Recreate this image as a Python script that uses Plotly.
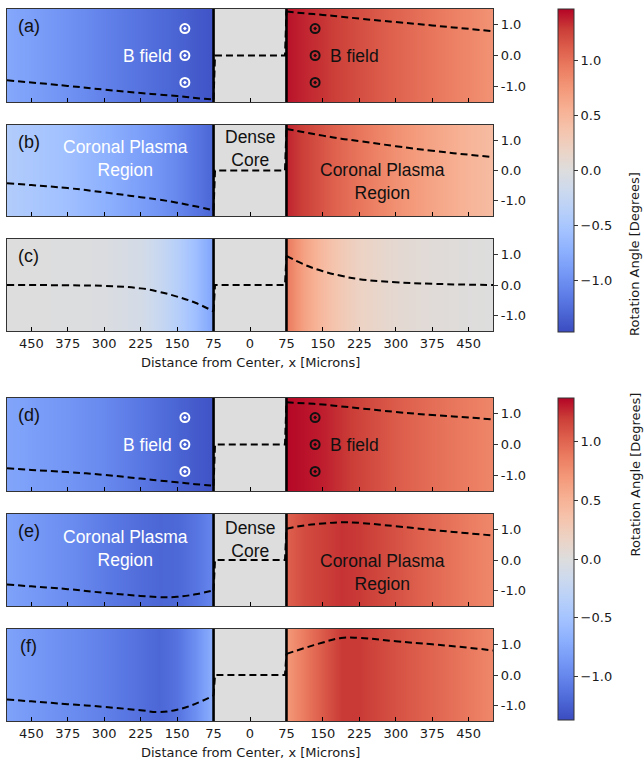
import plotly.graph_objects as go

# ---------------- data ----------------
# distance from center (microns) at which the profiles were read, outer regions
dist = [75, 112.5, 150, 187.5, 225, 300, 375, 450, 500]
# dense core
core_edges = [-75, 75]
core_x = [-72, 0, 72]
core_vals = [0.0, 0.0, 0.0]

# rotation angle [deg] in left (x<0) and right (x>0) coronal plasma regions, listed at `dist`
left_a = [-1.42, -1.37, -1.31, -1.26, -1.21, -1.10, -0.98, -0.87, -0.80]
right_a = [1.42, 1.36, 1.31, 1.25, 1.19, 1.08, 0.97, 0.86, 0.78]
left_b = [-1.31, -1.18, -1.06, -0.96, -0.88, -0.72, -0.58, -0.48, -0.42]
right_b = [1.37, 1.26, 1.15, 1.05, 0.97, 0.80, 0.65, 0.52, 0.44]
left_c = [-0.86, -0.58, -0.38, -0.22, -0.11, -0.03, -0.01, 0.0, 0.0]
right_c = [0.95, 0.66, 0.45, 0.30, 0.19, 0.09, 0.04, 0.01, 0.0]
left_d = [-1.33, -1.28, -1.22, -1.16, -1.10, -0.98, -0.89, -0.82, -0.77]
right_d = [1.36, 1.33, 1.29, 1.23, 1.17, 1.05, 0.95, 0.87, 0.81]
left_e = [-0.99, -1.12, -1.20, -1.21, -1.17, -1.07, -0.95, -0.86, -0.80]
right_e = [1.02, 1.13, 1.19, 1.23, 1.21, 1.10, 0.98, 0.87, 0.80]
left_f = [-0.67, -0.94, -1.13, -1.21, -1.15, -1.04, -0.95, -0.86, -0.80]
right_f = [0.69, 0.88, 1.06, 1.21, 1.21, 1.10, 1.00, 0.89, 0.80]

lefts = [left_a, left_b, left_c, left_d, left_e, left_f]
rights = [right_a, right_b, right_c, right_d, right_e, right_f]
panel_labels = ["(a)", "(b)", "(c)", "(d)", "(e)", "(f)"]

x_tickvals = [-450, -375, -300, -225, -150, -75, 0, 75, 150, 225, 300, 375, 450]
x_ticktext = ["450", "375", "300", "225", "150", "75", "0", "75", "150", "225", "300", "375", "450"]
y_tickvals = [-1, 0, 1]
y_ticktext = ["-1.0", "0.0", "1.0"]
cb_tickvals = [-1.0, -0.5, 0.0, 0.5, 1.0]
cb_ticktext = ["\u22121.0", "\u22120.5", "0.0", "0.5", "1.0"]
color_limits = [1.465, 1.37]  # top group, bottom group

bfield_dist = 134
bfield_y = [0.87, 0.0, -0.87]

# ---------------- style ----------------
W, H = 644, 761
coolwarm = [
    [0.0, "rgb(59,76,192)"], [0.0625, "rgb(77,104,215)"], [0.125, "rgb(98,130,234)"],
    [0.1875, "rgb(119,154,247)"], [0.25, "rgb(141,176,254)"], [0.3125, "rgb(163,194,255)"],
    [0.375, "rgb(184,208,249)"], [0.4375, "rgb(204,217,238)"], [0.5, "rgb(221,221,221)"],
    [0.5625, "rgb(236,211,197)"], [0.625, "rgb(245,196,173)"], [0.6875, "rgb(247,177,148)"],
    [0.75, "rgb(244,154,123)"], [0.8125, "rgb(236,127,99)"], [0.875, "rgb(222,96,77)"],
    [0.9375, "rgb(203,62,56)"], [1.0, "rgb(180,4,38)"],
]
TICKFONT = dict(family="DejaVu Sans", size=13, color="#1a1a1a")
TXTFAM = "Liberation Sans, Arial, sans-serif"
DASH = dict(color="black", width=2, dash="7px,4px")

tops = [9, 125, 239, 398, 514, 629]
bottoms = [102, 216, 331, 491, 606, 721]
xdom = [7 / W, 493 / W]

fig = go.Figure()
layout = dict(width=W, height=H, margin=dict(l=0, r=0, t=0, b=0),
              paper_bgcolor="white", plot_bgcolor="white", showlegend=False)
shapes, annotations = [], []

for i in range(6):
    k = "" if i == 0 else str(i + 1)
    xa, ya = "x" + k, "y" + k
    cax = "coloraxis" if i < 3 else "coloraxis2"
    lv, rv = lefts[i], rights[i]
    lx = [-d for d in dist][::-1]
    lz = lv[::-1]
    # background colour maps
    fig.add_trace(go.Heatmap(x=lx, y=[-1.5, 1.5], z=[lz, lz], coloraxis=cax, zsmooth="best",
                             xaxis=xa, yaxis=ya, hoverinfo="skip"))
    fig.add_trace(go.Heatmap(x=dist, y=[-1.5, 1.5], z=[rv, rv], coloraxis=cax, zsmooth="best",
                             xaxis=xa, yaxis=ya, hoverinfo="skip"))
    fig.add_trace(go.Heatmap(x=core_edges, y=[-1.5, 1.5], z=[[core_vals[0]]], coloraxis=cax,
                             xaxis=xa, yaxis=ya, hoverinfo="skip"))
    # profile lines: smooth outer regions + core with jumps
    fig.add_trace(go.Scatter(x=lx, y=lz, mode="lines", line=dict(DASH, shape="spline", smoothing=1.2),
                             xaxis=xa, yaxis=ya, hoverinfo="skip"))
    fig.add_trace(go.Scatter(x=dist, y=rv, mode="lines", line=dict(DASH, shape="spline", smoothing=1.2),
                             xaxis=xa, yaxis=ya, hoverinfo="skip"))
    fig.add_trace(go.Scatter(x=[lx[-1]] + core_x + [dist[0]], y=[lz[-1]] + core_vals + [rv[0]],
                             mode="lines", line=DASH, xaxis=xa, yaxis=ya, hoverinfo="skip"))
    # separators
    for xe in core_edges:
        shapes.append(dict(type="line", xref=xa, yref=ya + " domain", x0=xe, x1=xe, y0=0, y1=1,
                           line=dict(color="black", width=2.6), layer="above"))
    dom = [1 - bottoms[i] / H, 1 - tops[i] / H]
    layout["xaxis" + k] = dict(domain=xdom, range=[-500, 500], anchor=ya, tickvals=x_tickvals,
                               ticktext=x_ticktext, showticklabels=(i in (2, 5)), ticks="inside",
                               ticklen=4, tickwidth=1.3, tickcolor="black", showline=True, mirror=True,
                               linecolor="#333", linewidth=1.2, showgrid=False, zeroline=False,
                               tickfont=TICKFONT, fixedrange=True)
    layout["yaxis" + k] = dict(domain=dom, range=[-1.5, 1.5], anchor=xa, side="right",
                               tickvals=y_tickvals, ticktext=y_ticktext, ticks="outside", ticklen=4,
                               tickcolor="#333", showline=True, mirror=True, linecolor="#333",
                               linewidth=1.2, showgrid=False, zeroline=False, tickfont=TICKFONT,
                               fixedrange=True)
    annotations.append(dict(x=-455, y=0.95, xref=xa, yref=ya, text=panel_labels[i], showarrow=False,
                            font=dict(family=TXTFAM, size=18, color="#111")))
    if i in (0, 3):
        fig.add_trace(go.Scatter(x=[-bfield_dist] * 3, y=bfield_y, mode="markers",
                                 marker=dict(symbol="circle-open-dot", size=9, color="white",
                                             line=dict(width=2, color="white")),
                                 xaxis=xa, yaxis=ya, hoverinfo="skip"))
        fig.add_trace(go.Scatter(x=[bfield_dist] * 3, y=bfield_y, mode="markers",
                                 marker=dict(symbol="circle-open-dot", size=9, color="#111",
                                             line=dict(width=2, color="#111")),
                                 xaxis=xa, yaxis=ya, hoverinfo="skip"))
        annotations.append(dict(x=-156, y=0, xref=xa, yref=ya, text="B field", showarrow=False,
                                xanchor="right", font=dict(family=TXTFAM, size=17.5, color="white")))
        annotations.append(dict(x=160, y=0, xref=xa, yref=ya, text="B field", showarrow=False,
                                xanchor="left", font=dict(family=TXTFAM, size=17.5, color="#111")))
    if i in (1, 4):
        yl, yr, yc = (0.39, -0.35, 0.74) if i == 1 else (0.36, -0.41, 0.68)
        annotations.append(dict(x=-257, y=yl, xref=xa, yref=ya, text="Coronal Plasma<br>Region",
                                showarrow=False, font=dict(family=TXTFAM, size=17.5, color="white")))
        annotations.append(dict(x=272, y=yr, xref=xa, yref=ya, text="Coronal Plasma<br>Region",
                                showarrow=False, font=dict(family=TXTFAM, size=17.5, color="#111")))
        annotations.append(dict(x=0, y=yc, xref=xa, yref=ya, text="Dense<br>Core",
                                showarrow=False, font=dict(family=TXTFAM, size=17.5, color="#111")))

# x-axis titles (top edge of text box, in pixels from top)
for ypx in (353, 743):
    annotations.append(dict(x=250 / W, y=1 - ypx / H, xref="paper", yref="paper", yanchor="top",
                            text="Distance from Center, x [Microns]", showarrow=False,
                            font=TICKFONT))

for j, (top, bot) in enumerate([(9, 332), (398, 720)]):
    name = "coloraxis" if j == 0 else "coloraxis2"
    lim = color_limits[j]
    layout[name] = dict(cmin=-lim, cmax=lim, colorscale=coolwarm,
                        colorbar=dict(thickness=16, thicknessmode="pixels", len=bot - top,
                                      lenmode="pixels", x=558 / W, xanchor="left", xpad=0,
                                      y=1 - top / H, yanchor="top", ypad=0, outlinewidth=1,
                                      outlinecolor="#333", tickvals=cb_tickvals,
                                      ticktext=cb_ticktext, ticks="outside", ticklen=4,
                                      tickcolor="#333", tickfont=TICKFONT))
    annotations.append(dict(x=1.0, y=1 - (top + bot) / 2 / H, xref="paper", yref="paper",
                            xanchor="right", text="Rotation Angle [Degrees]", textangle=-90,
                            showarrow=False, font=TICKFONT))

layout["shapes"] = shapes
layout["annotations"] = annotations
fig.update_layout(**layout)
fig.write_html("out.html")
